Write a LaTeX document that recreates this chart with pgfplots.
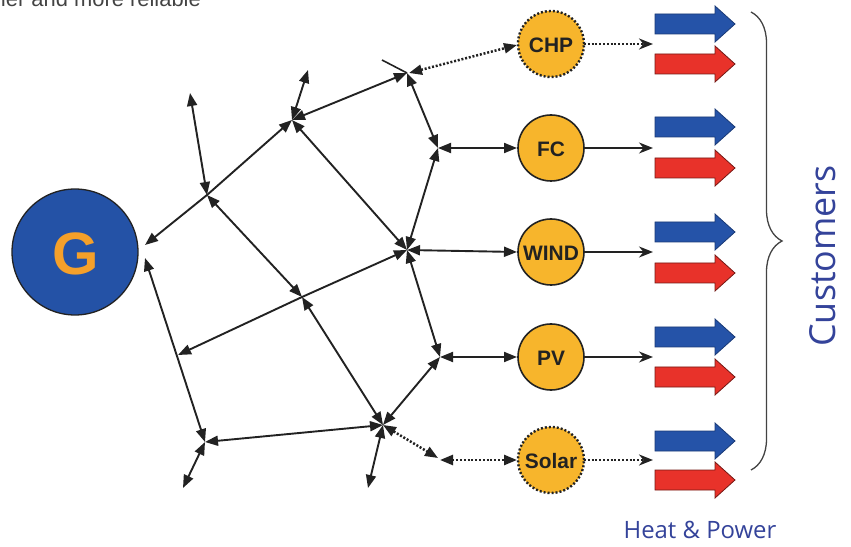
\documentclass[border=0pt]{standalone}
\usepackage{pgfplots}
\pgfplotsset{compat=1.18}
\usepackage{fontspec}
\setmainfont{Liberation Sans}
\newfontfamily\hpfont{Open Sans}
\usetikzlibrary{arrows.meta,decorations.pathreplacing}
\definecolor{gblue}{HTML}{2452A6}
\definecolor{gorange}{HTML}{F5A02A}
\definecolor{gold}{HTML}{F7B52C}
\definecolor{dark}{HTML}{222222}
\definecolor{cblue}{HTML}{2553A8}
\definecolor{cred}{HTML}{E8322A}
\definecolor{tblue}{HTML}{34439A}
\tikzset{
  ar/.style={line width=1.9bp, draw=dark, arrows={Triangle[length=13bp,width=10bp]-Triangle[length=13bp,width=10bp]}},
  ard/.style={line width=2.5bp, draw=dark, dash pattern=on 2bp off 1.8bp, arrows={Triangle[length=13bp,width=10bp]-Triangle[length=13bp,width=10bp]}},
  outarr/.style={line width=1.6bp, draw=dark, arrows={-Stealth[length=14bp,width=11bp,inset=4.5bp]}},
  outdot/.style={line width=2.5bp, draw=dark, dash pattern=on 2bp off 1.8bp, arrows={-Stealth[length=14bp,width=11bp,inset=4.5bp]}},
  bblk/.style={fill=cblue, draw=cblue!70!black, line width=0.8bp},
  rblk/.style={fill=cred, draw=cred!50!black, line width=0.8bp},
  lab/.style={font=\bfseries\fontsize{21}{21}\selectfont, text=dark},
}
\begin{document}
\begin{tikzpicture}
\begin{axis}[
  x=1bp, y=1bp, xmin=0, xmax=851, ymin=0, ymax=547, y dir=reverse,
  hide axis, clip=false, scale only axis]
\coordinate (tl) at (axis cs:0,0);
\coordinate (br) at (axis cs:851,547);
\coordinate (top) at (axis cs:-50,7);
\coordinate (g) at (axis cs:76,254);
\coordinate (chp) at (axis cs:551,45);
\coordinate (fc) at (axis cs:551,149);
\coordinate (wind) at (axis cs:551,253);
\coordinate (pv) at (axis cs:551,358);
\coordinate (solar) at (axis cs:551,461);
\coordinate (cust) at (axis cs:823,256);
\coordinate (hp) at (axis cs:700,530);
% network edges
\addplot[ar] coordinates {(145,245) (207,195) (292,120)};
\addplot[ar] coordinates {(190,93) (207,195)};
\addplot[ar] coordinates {(207,195) (302,297)};
\addplot[ar] coordinates {(292,120) (407,250)};
\addplot[ar] coordinates {(292,120) (407,73)};
\addplot[ar] coordinates {(292,120) (308,70)};
\addplot[ar] coordinates {(407,73) (438,148)};
\addplot[line width=1.6bp, draw=dark] coordinates {(407,73) (382,60)};
\addplot[ard] coordinates {(409,73) (517,45)};
\addplot[ar] coordinates {(438,148) (517,148)};
\addplot[ar] coordinates {(407,250) (438,148)};
\addplot[ar] coordinates {(407,250) (302,297) (178,355)};
\addplot[ar] coordinates {(407,250) (517,252)};
\addplot[ar] coordinates {(407,250) (440,357)};
\addplot[ar] coordinates {(440,357) (383,425)};
\addplot[ar] coordinates {(440,357) (517,357)};
\addplot[ar] coordinates {(383,425) (205,442)};
\addplot[ar] coordinates {(205,442) (183,488)};
\addplot[ar] coordinates {(383,425) (368,488)};
\addplot[ard] coordinates {(383,425) (438,458)};
\addplot[ard] coordinates {(440,460) (517,460)};
\addplot[ar] coordinates {(145,258) (205,442)};
\addplot[ar] coordinates {(302,297) (383,425)};
% outputs to customers
\addplot[outdot] coordinates {(584,44) (653,44)};
\addplot[outarr] coordinates {(584,148) (653,148)};
\addplot[outarr] coordinates {(584,252) (653,252)};
\addplot[outarr] coordinates {(584,357) (653,357)};
\addplot[outdot] coordinates {(584,460) (653,460)};
% generator
\addplot[only marks, mark=*, mark size=63bp, mark options={fill=gblue, draw=dark, line width=1.3bp}] coordinates {(75,252)};
% sources
\addplot[only marks, mark=*, mark size=33bp, mark options={fill=gold, draw=dark, line width=1.6bp, solid}] coordinates {(551,148) (551,252) (551,357)};
\addplot[only marks, mark=*, mark size=33bp, mark options={fill=gold, draw=dark, line width=2.4bp, dash pattern=on 2bp off 2bp}] coordinates {(551,44) (551,460)};
% block arrows (blue = heat, red = power)
\addplot[bblk] coordinates {(655,14) (715,14) (715,6) (735,24) (715,42) (715,34) (655,34)} -- cycle;
\addplot[rblk] coordinates {(655,54) (715,54) (715,46) (735,64) (715,82) (715,74) (655,74)} -- cycle;
\addplot[bblk] coordinates {(655,117) (715,117) (715,109) (735,127) (715,145) (715,137) (655,137)} -- cycle;
\addplot[rblk] coordinates {(655,158) (715,158) (715,150) (735,168) (715,186) (715,178) (655,178)} -- cycle;
\addplot[bblk] coordinates {(655,222) (715,222) (715,214) (735,232) (715,250) (715,242) (655,242)} -- cycle;
\addplot[rblk] coordinates {(655,263) (715,263) (715,255) (735,273) (715,291) (715,283) (655,283)} -- cycle;
\addplot[bblk] coordinates {(655,327) (715,327) (715,319) (735,337) (715,355) (715,347) (655,347)} -- cycle;
\addplot[rblk] coordinates {(655,367) (715,367) (715,359) (735,377) (715,395) (715,387) (655,387)} -- cycle;
\addplot[bblk] coordinates {(655,431) (715,431) (715,423) (735,441) (715,459) (715,451) (655,451)} -- cycle;
\addplot[rblk] coordinates {(655,470) (715,470) (715,462) (735,480) (715,498) (715,490) (655,490)} -- cycle;
% brace
\addplot[draw=dark!85, line width=1.3bp, decorate, decoration={brace, amplitude=31bp}] coordinates {(751,12) (751,470)};
\end{axis}
% texts on top of the drawing
\node[anchor=base west, font=\fontsize{22}{22}\selectfont, text=dark!85] at (top) {cleaner and more reliable};
\node[font=\bfseries\fontsize{60}{60}\selectfont, text=gorange] at (g) {G};
\node[lab] at (chp) {CHP};
\node[lab] at (fc) {FC};
\node[lab] at (wind) {WIND};
\node[lab] at (pv) {PV};
\node[lab] at (solar) {Solar};
\node[rotate=90, font=\hpfont\fontsize{36}{36}\selectfont, text=tblue] at (cust) {Customers};
\node[font=\hpfont\fontsize{24}{24}\selectfont, text=tblue] at (hp) {Heat \& Power};
\pgfresetboundingbox
\useasboundingbox (tl) rectangle (br);
\end{tikzpicture}
\end{document}
